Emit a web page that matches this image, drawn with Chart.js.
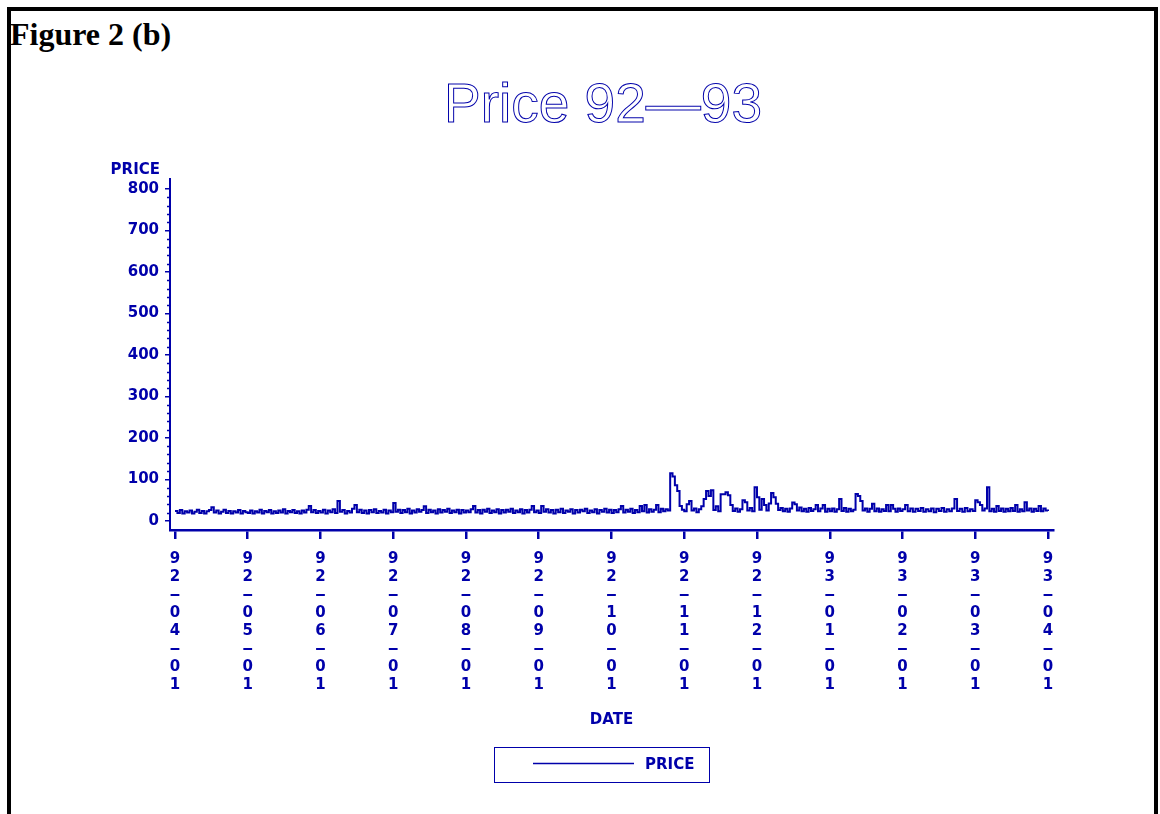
<!DOCTYPE html>
<html>
<head>
<meta charset="utf-8">
<title>Figure 2 (b)</title>
<script src="https://cdn.jsdelivr.net/npm/chart.js@4.4.0/dist/chart.umd.min.js"></script>
<style>
  html, body { margin: 0; padding: 0; background: #fff; overflow: hidden; }
  body { width: 1160px; height: 814px; position: relative; }
  #frame {
    position: absolute; left: 7px; top: 7px; width: 1143px; height: 900px;
    border: 4px solid #000; border-bottom: none;
  }
  #fig {
    position: absolute; left: 10px; top: 18px;
    font: bold 32px 'Liberation Serif', 'Times New Roman', serif;
    line-height: 32px; color: #000;
  }
  #chart { position: absolute; left: 0; top: 0; }
</style>
</head>
<body>
<div id="frame"></div>
<div id="fig">Figure 2 (b)</div>
<canvas id="chart" width="1160" height="814"></canvas>

<script>
// ── DATA ──────────────────────────────────────────────────────────
const TITLE       = 'Price 92\u201493';
const SERIES_NAME = 'PRICE';
const X_TITLE     = 'DATE';

// month starts shown on the date axis
const TICK_LABELS = [
  '92-04-01', '92-05-01', '92-06-01', '92-07-01', '92-08-01', '92-09-01', '92-10-01',
  '92-11-01', '92-12-01', '93-01-01', '93-02-01', '93-03-01', '93-04-01'
];
const Y_TICKS = [0, 100, 200, 300, 400, 500, 600, 700, 800];

// daily prices, one array per month
const APR_92 = [24,19,26,18,23,20,25,18,22,27,19,24,18,23,26,33,20,25,18,22,27,19,24,18,23,20,26,18,24,21];
const MAY_92 = [19,25,18,23,20,27,18,24,21,26,18,23,19,25,20,28,18,24,21,26,19,23,18,25,20,27,36,21,26,19,24];
const JUN_92 = [20,27,18,25,21,28,19,48,22,26,18,24,20,29,38,21,27,19,25,18,26,21,28,19,24,20,27,18,25,21];
const JUL_92 = [43,22,27,19,26,21,29,18,25,20,28,22,26,35,19,27,21,25,18,28,20,26,22,29,19,25,21,27,18,26,20];
const AUG_92 = [25,21,28,36,20,26,18,27,22,29,19,25,21,28,18,26,20,27,22,29,19,25,21,28,18,26,20,27,36,21,25];
const SEP_92 = [19,36,22,28,20,26,18,27,21,29,19,25,22,28,18,26,20,27,23,29,19,25,21,28,18,26,22,29,20,27];
const OCT_92 = [19,26,21,28,36,20,27,22,29,19,26,21,36,23,38,20,28,22,27,38,21,29,23,28,25,115,107,86,72,36,27];
const NOV_92 = [23,40,48,25,30,21,28,35,53,72,60,74,26,35,23,64,64,69,62,38,24,30,22,28,50,45,25,31,23,81];
const DEC_92 = [57,27,53,38,25,42,67,57,41,26,31,23,29,22,30,44,40,25,32,23,29,22,31,24,28,38,23,30,38,22,29];
const JAN_93 = [23,30,22,28,53,24,31,22,29,23,27,65,60,48,25,30,22,29,41,23,30,22,28,24,38,23,38,29,22,30,24];
const FEB_93 = [28,38,23,30,22,29,24,31,22,28,23,30,21,29,24,31,22,28,23,30,53,24,29,22,31,23,28,24];
const MAR_93 = [50,45,38,25,30,81,23,29,22,36,24,30,22,29,23,31,24,38,22,28,23,45,25,30,22,29,24,36,23,30,25];
const APR_93 = [24];

const PRICE_BY_MONTH = [APR_92, MAY_92, JUN_92, JUL_92, AUG_92, SEP_92, OCT_92,
                        NOV_92, DEC_92, JAN_93, FEB_93, MAR_93, APR_93];

// ── STYLE ─────────────────────────────────────────────────────────
const BLUE = '#0000AA';
const AXIS_FONT = "'DejaVu Sans', 'Liberation Sans', sans-serif";

// each month gets the same width on the axis, days spread inside it
const points = [];
PRICE_BY_MONTH.forEach((days, m) => {
  days.forEach((v, d) => points.push({ x: m + d / days.length, y: v }));
});

// ── PLUGINS ───────────────────────────────────────────────────────
const sasDecor = {
  id: 'sasDecor',
  afterDraw(chart) {
    const { ctx, chartArea, scales } = chart;
    const y = scales.y;
    ctx.save();

    // outlined title
    ctx.font = "55px 'Liberation Sans', Arial, sans-serif";
    ctx.textAlign = 'center';
    ctx.textBaseline = 'alphabetic';
    ctx.strokeStyle = BLUE;
    ctx.lineWidth = 1;
    ctx.strokeText(TITLE, 603, 122);

    // y axis label above the axis
    ctx.fillStyle = BLUE;
    ctx.font = 'bold 15px ' + AXIS_FONT;
    ctx.textAlign = 'right';
    ctx.textBaseline = 'middle';
    ctx.fillText(SERIES_NAME, chartArea.left - 10, 170);

    // minor ticks every 20
    ctx.strokeStyle = BLUE;
    ctx.lineWidth = 1.5;
    for (let v = 20; v < 800; v += 20) {
      if (v % 100 === 0) continue;
      const py = Math.round(y.getPixelForValue(v)) + 0.5;
      ctx.beginPath();
      ctx.moveTo(chartArea.left - 3, py);
      ctx.lineTo(chartArea.left, py);
      ctx.stroke();
    }

    // boxed legend
    const ds = chart.data.datasets[0];
    ctx.lineWidth = 1;
    ctx.strokeRect(494.5, 747.5, 215, 35);
    ctx.strokeStyle = ds.borderColor;
    ctx.lineWidth = 1.5;
    ctx.beginPath();
    ctx.moveTo(533, 763.5);
    ctx.lineTo(634, 763.5);
    ctx.stroke();
    ctx.textAlign = 'left';
    ctx.font = 'bold 15px ' + AXIS_FONT;
    ctx.fillText(ds.label, 645, 765);

    ctx.restore();
  }
};

// ── CHART ─────────────────────────────────────────────────────────
new Chart(document.getElementById('chart'), {
  type: 'line',
  data: {
    datasets: [{
      label: SERIES_NAME,
      data: points,
      borderColor: BLUE,
      borderWidth: 2,
      stepped: true,
      pointRadius: 0,
      fill: false
    }]
  },
  options: {
    responsive: false,
    devicePixelRatio: 1,
    animation: false,
    layout: { padding: { top: 179, left: 110, right: 107, bottom: 85 } },
    plugins: {
      legend: { display: false },
      title: { display: false },
      tooltip: { enabled: false }
    },
    scales: {
      x: {
        type: 'linear',
        min: -0.0687,
        max: 12.0687,
        afterBuildTicks: s => { s.ticks = TICK_LABELS.map((_, i) => ({ value: i })); },
        afterFit: s => { s.height = 199; },
        ticks: {
          autoSkip: false,
          maxRotation: 0,
          minRotation: 0,
          padding: 11,
          color: BLUE,
          font: { family: AXIS_FONT, size: 15, weight: 'bold', lineHeight: 1.2 },
          callback: (v, i) => TICK_LABELS[i].split('').map(c => (c === '-' ? '\u2012' : c))
        },
        grid: { drawOnChartArea: false, tickLength: 9, color: BLUE, lineWidth: 2.5 },
        border: { display: true, color: BLUE, width: 2.5 },
        title: {
          display: true,
          text: X_TITLE,
          color: BLUE,
          padding: 0,
          font: { family: AXIS_FONT, size: 15, weight: 'bold', lineHeight: 1.2 }
        }
      },
      y: {
        min: -22,
        max: 824,
        afterBuildTicks: s => { s.ticks = Y_TICKS.map(v => ({ value: v })); },
        afterFit: s => { s.width = 60; },
        ticks: {
          padding: 6,
          color: BLUE,
          font: { family: AXIS_FONT, size: 15, weight: 'bold' }
        },
        grid: { drawOnChartArea: false, tickLength: 5, color: BLUE, lineWidth: 1.5 },
        border: { display: true, color: BLUE, width: 2 }
      }
    }
  },
  plugins: [sasDecor]
});
</script>
</body>
</html>
